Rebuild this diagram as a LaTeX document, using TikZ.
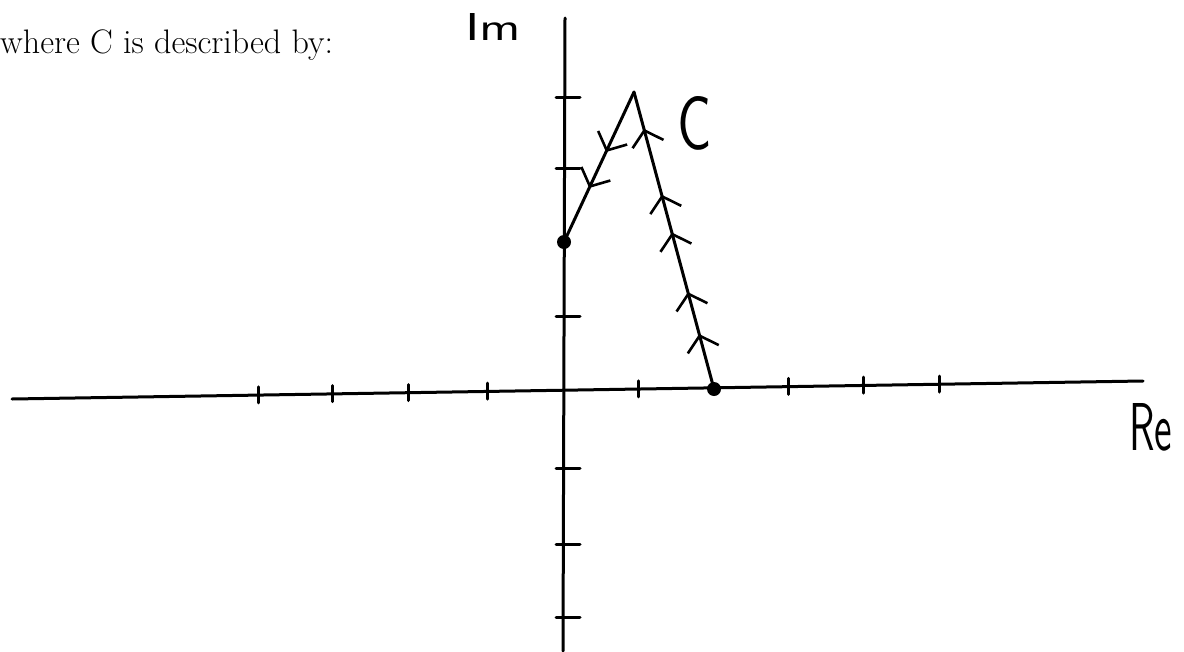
\documentclass[tikz,border=0pt]{standalone}
\usepackage{graphicx}
\usetikzlibrary{arrows.meta,decorations.markings}
\tikzset{
  chev/.tip={Straight Barb[length=14pt,width=32pt,line width=2.6pt]},
  axisline/.style={line width=3pt, line cap=round},
  tickline/.style={line width=3pt, line cap=round},
  contour/.style={line width=3pt, line cap=round, line join=round},
  blob/.style={circle, fill=black, inner sep=0pt, minimum size=14pt},
  hand/.style={inner sep=0pt, font=\sffamily}
}
\begin{document}
\begin{tikzpicture}[x=1pt,y=-1pt]
\useasboundingbox (0,0) rectangle (1184,651);
% axes
\coordinate (xl) at (12,399);
\coordinate (xr) at (1143,381);
\coordinate (yt) at (565,18);
\coordinate (yb) at (563,651);
\draw[axisline] (xl) -- (xr);
\draw[axisline] (yt) -- (yb);
% ticks on real axis
\foreach \x/\y in {258/394.9,332/393.7,408/392.5,487/391.2,638/388.8,788/386.4,863/385.2,939/384.0}
  \draw[tickline] (\x,\y-8) -- (\x,\y+8);
% ticks on imaginary axis
\foreach \y in {97,168,316,468,544,617}
  \draw[tickline] (556,\y) -- (580,\y);
% contour points
\coordinate (A) at (714,389);
\coordinate (P) at (634,92);
\coordinate (B) at (564,242);
\draw[contour, postaction={decorate}, decoration={markings,
   mark=at position 0.185 with {\arrow{chev}},
   mark=at position 0.326 with {\arrow{chev}},
   mark=at position 0.527 with {\arrow{chev}},
   mark=at position 0.654 with {\arrow{chev}},
   mark=at position 0.876 with {\arrow{chev}}}] (A) -- (P);
\draw[contour, postaction={decorate}, decoration={markings,
   mark=at position 0.40 with {\arrow{chev}},
   mark=at position 0.64 with {\arrow{chev}}}] (P) -- (B);
\node[blob] (dA) at (A) {};
\node[blob] (dB) at (B) {};
% labels
\node[anchor=base west, inner sep=0pt, font=\fontsize{34}{40}\selectfont] (title) at (0,53) {where C is described by:};
\node[hand] (im) at (493,27) {\resizebox{56pt}{27pt}{Im}};
\node[hand] (re) at (1151,427) {\resizebox{43pt}{47pt}{Re}};
\node[hand] (cl) at (695,123) {\resizebox{34pt}{53pt}{C}};
\end{tikzpicture}
\end{document}
